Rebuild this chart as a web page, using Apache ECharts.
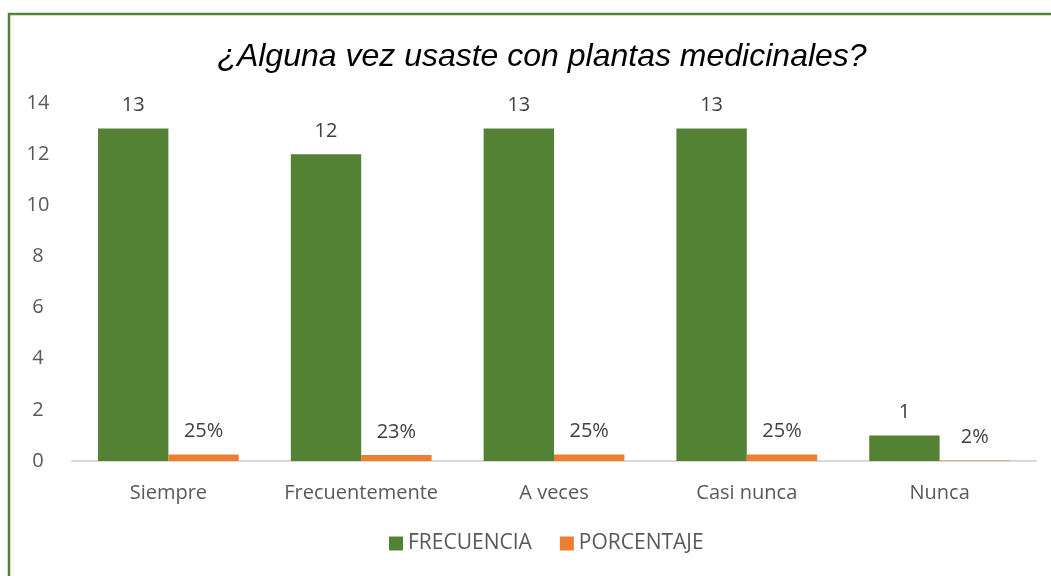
<!DOCTYPE html>
<html>
<head>
<meta charset="utf-8">
<script src="https://cdn.jsdelivr.net/npm/echarts@6/dist/echarts.min.js"></script>
<style>html,body{margin:0;padding:0;background:#fff}#c{width:1051px;height:576px}</style>
</head>
<body>
<div id="c"></div>
<script>
var categories = ['Siempre', 'Frecuentemente', 'A veces', 'Casi nunca', 'Nunca'];
var frecuencia = [13, 12, 13, 13, 1];
var porcentaje = [0.25, 0.23, 0.25, 0.25, 0.02];
var yTicks = [0, 2, 4, 6, 8, 10, 12, 14];

var chart = echarts.init(document.getElementById('c'));
var font = '"Liberation Sans", Arial, sans-serif';
var uiFont = '"Open Sans", "Noto Sans", sans-serif';
chart.setOption({
  animation: false,
  title: {
    text: '¿Alguna vez usaste con plantas medicinales?',
    left: 537, textAlign: 'center', top: 36,
    textStyle: { fontFamily: font, fontStyle: 'italic', fontWeight: 'normal', fontSize: 32, color: '#000' }
  },
  legend: {
    bottom: 17, left: 384, itemWidth: 14, itemHeight: 14, itemGap: 28, icon: 'rect',
    textStyle: { fontFamily: uiFont, fontSize: 21, color: '#595959' }
  },
  grid: { left: 72, right: 15, top: 103, bottom: 115, containLabel: false },
  xAxis: {
    type: 'category', data: categories,
    axisLine: { lineStyle: { color: '#d9d9d9', width: 2 } },
    axisTick: { show: false },
    axisLabel: { interval: 0, fontFamily: uiFont, fontSize: 20, color: '#595959', margin: 22 }
  },
  yAxis: {
    type: 'value', min: yTicks[0], max: yTicks[yTicks.length - 1], interval: 2,
    splitLine: { show: false },
    axisLine: { show: false }, axisTick: { show: false },
    axisLabel: { fontFamily: uiFont, fontSize: 20, color: '#595959', margin: 34, align: 'center' }
  },
  series: [
    {
      name: 'FRECUENCIA', type: 'bar', data: frecuencia, barGap: '0%', barCategoryGap: '27%',
      itemStyle: { color: '#548235' },
      label: { show: true, position: 'top', distance: 13, fontFamily: uiFont, fontSize: 20, color: '#404040' }
    },
    {
      name: 'PORCENTAJE', type: 'bar', data: porcentaje,
      itemStyle: { color: '#ED7D31' },
      label: {
        show: true, position: 'top', distance: 13, fontFamily: uiFont, fontSize: 20, color: '#404040',
        formatter: function (p) { return Math.round(p.value * 100) + '%'; }
      }
    }
  ],
  graphic: [
    { type: 'rect', shape: { x: 9, y: 14, width: 1100, height: 700 }, style: { fill: 'none', stroke: '#538135', lineWidth: 2.5 }, silent: true }
  ]
});
</script>
</body>
</html>
